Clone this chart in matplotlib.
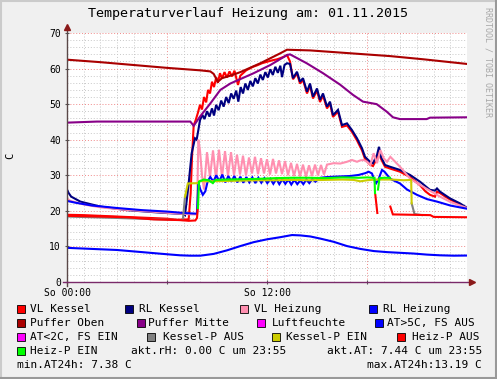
import numpy as np
import matplotlib
matplotlib.use('Agg')
import matplotlib.pyplot as plt
from matplotlib.patches import Rectangle
from matplotlib.lines import Line2D

nan = np.nan

# Stunden seit 00:00, Werte in C
vl_kessel_h = [0, 1, 2, 3, 4, 5, 6, 6.6, 7.3, 7.42, 7.5, 7.6, 7.72, 7.85, 7.98, 8.1, 8.22, 8.35, 8.46, 8.58,
               8.7, 8.82, 8.95, 9.05, 9.18, 9.3, 9.45, 9.6, 9.75, 9.9, 10.05, 10.26, 10.4, 10.56, 10.75, 10.95,
               11.16, 11.4, 11.7, 12.0, 12.3, 12.6, 12.78, 13.0, 13.2, 13.38, 13.56, 13.8, 13.98, 14.16, 14.4,
               14.58, 14.76, 15.0, 15.18, 15.36, 15.6, 15.78, 15.96, 16.26, 16.5, 16.8, 17.1, 17.4, 17.7, 17.88,
               18.18, 18.36, 18.6, 18.72, 18.84, 19.08, 19.38, 19.98, 20.58, 21.18, 21.5, 21.78, 22.08, 22.2,
               22.38, 22.7, 22.98, 23.58, 24.0]
vl_kessel = [18.9, 18.8, 18.6, 18.4, 18.2, 18.0, 17.8, 17.5, 17.6, 25.0, 35.0, 44.0, 45.5, 47.5, 49.8, 48.5,
             52.0, 50.5, 54.0, 53.0, 56.3, 54.8, 57.5, 56.0, 58.7, 57.2, 59.0, 57.5, 59.2, 57.8, 59.4, 55.4,
             58.0, 58.7, 59.5, 60.0, 60.5, 60.9, 61.5, 61.9, 62.3, 62.6, 62.9, 63.3, 63.8, 62.0, 57.0, 58.6,
             55.8, 56.8, 53.0, 55.2, 51.6, 53.8, 50.6, 52.4, 48.8, 50.2, 46.4, 47.9, 43.6, 44.0, 42.2, 39.8,
             37.0, 34.6, 33.0, 32.6, 34.8, 36.8, 34.6, 32.4, 31.9, 31.0, 29.5, 27.2, 25.5, 24.5, 24.0, 25.4,
             25.0, 24.0, 23.2, 21.8, 20.8]

rl_kessel_h = [0, 0.1, 0.25, 0.8, 2.0, 3.6, 5.6, 7.0, 7.08, 7.28, 7.48, 7.68, 7.78, 7.88, 7.98, 8.12, 8.25,
               8.4, 8.55, 8.7, 8.82, 8.95, 9.1, 9.25, 9.4, 9.55, 9.7, 9.85, 10.0, 10.15, 10.28, 10.42, 10.56,
               10.7, 10.85, 11.0, 11.15, 11.3, 11.45, 11.6, 11.75, 11.9, 12.05, 12.2, 12.35, 12.5, 12.65, 12.8,
               12.9, 13.05, 13.2, 13.38, 13.56, 13.8, 13.98, 14.16, 14.4, 14.58, 14.76, 15.0, 15.18, 15.36,
               15.6, 15.78, 15.96, 16.26, 16.5, 16.8, 17.1, 17.4, 17.7, 17.88, 18.18, 18.36, 18.6, 18.72,
               18.84, 19.08, 19.38, 19.98, 20.58, 21.18, 21.78, 22.08, 22.2, 22.38, 22.98, 23.58, 23.88, 24.0]
rl_kessel = [26.0, 25.0, 24.0, 22.6, 21.2, 20.2, 19.5, 19.1, 18.8, 26.8, 36.2, 40.4, 40.0, 42.7, 45.5, 47.0,
             45.8, 48.0, 46.5, 48.8, 46.8, 49.8, 48.3, 51.0, 49.3, 52.0, 50.3, 53.0, 51.5, 53.8, 50.7, 54.8,
             53.0, 55.8, 54.0, 56.5, 55.0, 57.3, 55.8, 58.3, 56.8, 59.0, 57.5, 59.8, 58.2, 60.5, 58.8, 60.8,
             57.6, 61.0, 61.5, 61.3, 57.3, 59.1, 56.3, 57.3, 53.5, 55.8, 52.1, 54.4, 51.2, 53.0, 49.3, 50.7,
             46.9, 48.4, 44.1, 44.6, 42.7, 40.4, 37.6, 35.2, 33.8, 33.4, 35.7, 38.0, 35.2, 32.9, 32.4, 31.5,
             30.1, 28.2, 25.9, 25.7, 26.3, 25.4, 23.5, 22.1, 21.2, 21.0]

vl_heiz_h = [0, 0.2, 1, 2, 3.5, 5, 6.5, 7.5, 7.8, 7.88, 7.98, 8.1, 8.22, 8.4, 8.58, 8.76, 8.94, 9.12, 9.3,
             9.48, 9.66, 9.84, 10.02, 10.2, 10.38, 10.56, 10.74, 10.92, 11.1, 11.28, 11.46, 11.64, 11.82, 12.0,
             12.18, 12.36, 12.54, 12.72, 12.9, 13.08, 13.26, 13.44, 13.62, 13.8, 13.98, 14.16, 14.34, 14.52,
             14.7, 14.88, 15.06, 15.24, 15.42, 15.6, 15.8, 16.0, 16.4, 16.8, 17.1, 17.4, 17.6, 17.8, 18.0,
             18.2, 18.4, 18.6, 18.8, 19.0, 19.2, 19.4, 19.98, 20.6, 21.18, 22.38, 23.0, 23.88, 24.0]
vl_heiz = [23.5, 22.8, 21.8, 21.0, 20.3, 19.8, 19.3, 19.0, 19.0, 40.0, 37.0, 30.0, 26.0, 36.5, 29.5, 37.0,
           29.0, 37.2, 29.5, 36.8, 29.8, 36.5, 30.0, 35.8, 30.2, 35.5, 30.0, 35.0, 30.5, 35.2, 30.3, 34.8,
           30.5, 34.5, 30.2, 34.6, 30.5, 34.2, 30.3, 34.0, 30.0, 33.5, 29.8, 33.2, 29.7, 33.0, 29.6, 32.8,
           29.8, 33.0, 30.0, 32.9, 30.2, 33.0, 33.2, 33.4, 33.3, 33.8, 34.3, 33.8, 34.2, 34.3, 33.8, 32.9,
           36.2, 33.4, 37.1, 34.8, 33.8, 35.2, 32.4, 29.0, 27.3, 24.0, 22.5, 21.0, 20.9]

rl_heiz_h = [0, 0.5, 1.5, 3, 4.5, 6, 7.0, 7.8, 7.88, 8.0, 8.15, 8.3, 8.45, 8.6, 8.78, 8.96, 9.14, 9.32, 9.5,
             9.68, 9.86, 10.04, 10.22, 10.4, 10.58, 10.76, 10.94, 11.12, 11.3, 11.48, 11.66, 11.84, 12.02,
             12.2, 12.38, 12.56, 12.74, 12.92, 13.1, 13.28, 13.46, 13.64, 13.82, 14.0, 14.18, 14.36, 14.54,
             14.72, 14.9, 15.2, 15.6, 16.0, 16.5, 17.0, 17.5, 17.9, 18.1, 18.3, 18.45, 18.55, 18.7, 18.9,
             19.05, 19.4, 19.98, 20.4, 21.0, 21.6, 22.2, 23.0, 23.88, 24.0]
rl_heiz = [22.8, 22.3, 21.5, 20.8, 20.2, 19.8, 19.4, 19.2, 28.0, 26.0, 24.5, 25.5, 28.5, 29.5, 28.2, 30.0,
           28.3, 30.2, 28.0, 29.8, 28.2, 29.8, 28.0, 29.6, 27.9, 29.5, 28.0, 29.4, 27.8, 29.3, 27.9, 29.2,
           27.8, 29.0, 27.6, 29.0, 27.5, 28.9, 27.6, 28.8, 27.4, 28.7, 27.5, 28.6, 27.5, 28.8, 27.8, 28.9,
           28.2, 29.3, 29.5, 29.6, 29.7, 29.8, 30.1, 30.6, 31.0, 30.5, 28.5, 27.8, 29.0, 31.5, 31.0, 29.0,
           27.7, 26.0, 24.5, 23.3, 22.6, 21.5, 20.7, 20.6]

puffer_oben_h = [0, 2, 4, 6, 8, 8.6, 8.8, 9.05, 9.3, 9.8, 10.4, 11.6, 12.8, 13.2, 14.6, 17.0, 19.4, 21.4, 24.0]
puffer_oben = [62.5, 61.8, 61.0, 60.2, 59.5, 59.2, 58.5, 56.3, 57.3, 58.0, 59.0, 61.5, 64.3, 65.3, 65.1, 64.3,
               63.5, 62.6, 61.3]

puffer_mitte_h = [0, 1.8, 7.4, 7.6, 7.98, 8.6, 9.2, 9.8, 11.2, 12.2, 13.2, 13.38, 14.38, 15.36, 16.38, 17.16,
                  17.76, 18.58, 19.18, 19.56, 19.98, 21.58, 21.78, 24.0]
puffer_mitte = [44.8, 45.1, 45.1, 43.9, 46.5, 50.2, 54.0, 55.8, 58.7, 61.0, 63.8, 64.0, 61.5, 58.7, 55.5,
                52.6, 50.7, 50.0, 47.9, 46.3, 45.8, 45.8, 46.2, 46.3]

at_h = [0, 1, 2, 3, 4, 5, 6, 6.8, 7.4, 8.0, 8.8, 9.6, 10.4, 11.2, 12.0, 12.8, 13.5, 14.0, 14.6, 15.2, 16.0,
        16.8, 17.6, 18.4, 19.2, 20.0, 20.8, 21.6, 22.4, 23.2, 24.0]
at = [9.6, 9.4, 9.2, 9.0, 8.6, 8.2, 7.8, 7.5, 7.4, 7.4, 7.9, 8.9, 10.1, 11.2, 12.0, 12.6, 13.2, 13.1, 12.8,
      12.2, 11.3, 10.1, 9.3, 8.7, 8.4, 8.2, 8.0, 7.7, 7.5, 7.4, 7.44]

kessel_aus_h = [0, 3, 6.95, 7.08, 7.1, 20.68, 20.85, 21.3]
kessel_aus = [18.4, 18.0, 17.4, 24.0, nan, 22.1, 19.1, 18.8]

kessel_ein_h = [7.08, 7.25, 7.88, 7.95, 8.5, 9.5, 10.5, 11.5, 12.5, 13.5, 14.5, 15.5, 16.5, 17.2, 17.6, 18.0,
                18.5, 19.5, 20.2, 20.65, 20.68]
kessel_ein = [24.0, 27.7, 27.8, 28.4, 28.3, 28.4, 28.5, 28.6, 28.6, 28.7, 28.6, 28.7, 28.8, 28.7, 28.3, 28.6,
              28.8, 28.8, 28.6, 28.7, 22.1]

heizp_aus_h = [0, 2, 3.6, 5.2, 6.8, 7.3, 7.7, 7.8, 7.85, 7.9, 18.5, 18.62, 18.7, 19.4, 19.55, 21.8, 22.0, 24.0]
heizp_aus = [18.6, 18.4, 18.2, 17.6, 17.4, 17.2, 17.3, 18.0, 20.8, nan, 24.5, 19.4, nan, 21.2, 19.0, 18.8,
             18.3, 18.2]

heizp_ein_h = [7.86, 7.92, 8.2, 8.5, 8.75, 8.9, 9.5, 10.5, 11.5, 12.5, 13.5, 14.5, 15.5, 16.5, 17.5, 18.0,
               18.45, 18.48, 18.55, 18.66, 18.75, 19.0, 19.38]
heizp_ein = [20.8, 28.2, 28.8, 28.6, 27.8, 28.7, 28.8, 28.9, 29.0, 29.2, 29.3, 29.3, 29.2, 29.4, 29.3, 29.4,
             29.3, 25.0, nan, 26.0, 29.2, 29.3, 29.3]

labels = ['VL Kessel', 'RL Kessel', 'VL Heizung', 'RL Heizung', 'Puffer Oben', 'Puffer Mitte', 'Luftfeuchte',
          'AT>5C, FS AUS', 'AT<2C, FS EIN', 'Kessel-P AUS', 'Kessel-P EIN', 'Heiz-P AUS', 'Heiz-P EIN']
colors = ['#FF0000', '#000080', '#FF8FB0', '#0000FF', '#AA0000', '#880088', '#FF00FF',
          '#0000FF', '#FF00FF', '#808080', '#CCCC00', '#FF0000', '#00FF00']

title = 'Temperaturverlauf Heizung am: 01.11.2015'
akt_rh = 'akt.rH: 0.00 C um 23:55'
akt_at = 'akt.AT: 7.44 C um 23:55'
min_at = 'min.AT24h: 7.38 C'
max_at = 'max.AT24h:13.19 C'

W, H = 497, 379
mono = 'DejaVu Sans Mono'
plt.rcParams['font.family'] = mono


def fx(px):
    return px / W


def fy(py):
    return 1 - py / H


fig = plt.figure(figsize=(W / 100, H / 100), dpi=100, facecolor='#F0F0F0')
# Rahmen wie rrdtool
fig.add_artist(Rectangle((0, 0), 1, 1, transform=fig.transFigure, fill=False, lw=0))
fig.add_artist(Line2D([0, 1], [1 - 1 / H, 1 - 1 / H], transform=fig.transFigure, color='#CBCBCB', lw=1.5))
fig.add_artist(Line2D([1 / W, 1 / W], [0, 1], transform=fig.transFigure, color='#CBCBCB', lw=1.5))
fig.add_artist(Line2D([0, 1], [1 / H, 1 / H], transform=fig.transFigure, color='#999999', lw=1.5))
fig.add_artist(Line2D([1 - 1 / W, 1 - 1 / W], [0, 1], transform=fig.transFigure, color='#999999', lw=1.5))

ax = fig.add_axes([fx(67), fy(282), (467 - 67) / W, (282 - 33) / H])
ax.set_facecolor('white')
ax.set_xlim(0, 24)
ax.set_ylim(0, 70)

series = [
    (vl_kessel_h, vl_kessel, 0),
    (rl_kessel_h, rl_kessel, 1),
    (vl_heiz_h, vl_heiz, 2),
    (rl_heiz_h, rl_heiz, 3),
    (puffer_oben_h, puffer_oben, 4),
    (puffer_mitte_h, puffer_mitte, 5),
    (at_h, at, 7),
    (kessel_aus_h, kessel_aus, 9),
    (kessel_ein_h, kessel_ein, 10),
    (heizp_aus_h, heizp_aus, 11),
    (heizp_ein_h, heizp_ein, 12),
]
for i, (hh, vv, ci) in enumerate(series):
    ax.plot(hh, vv, color=colors[ci], lw=1.5, zorder=3 + i * 0.01, solid_joinstyle='miter')

# Gitter
ax.set_xticks([0, 6, 12, 18])
ax.set_xticklabels(['So 00:00', '', 'So 12:00', ''])
ax.set_xticks(np.arange(0, 25, 1), minor=True)
ax.set_yticks(np.arange(0, 71, 10))
ax.set_yticks(np.arange(0, 71, 2), minor=True)
ax.grid(which='minor', color='#C8C8C8', linestyle=(0, (1, 2)), lw=0.7)
ax.grid(which='major', color='#F08888', linestyle=(0, (1, 2)), lw=0.7)
ax.axvline(24, color='#C8C8C8', linestyle=(0, (1, 2)), lw=0.7)
ax.set_axisbelow(True)
ax.tick_params(which='minor', length=0)
ax.tick_params(which='major', direction='inout', length=3, width=0.8, color='#555555',
               labelsize=7, pad=3)
ax.tick_params(axis='x', pad=2.5)
for s in ax.spines.values():
    s.set_visible(False)

# Achsen mit Pfeilen
ax.plot([0, 0], [-0.016, 1.02], transform=ax.transAxes, color='#5a4848', lw=1, clip_on=False, zorder=5)
ax.plot([-0.01, 1.01], [0, 0], transform=ax.transAxes, color='#7a2a6a', lw=1, clip_on=False, zorder=5)
ax.plot([0], [1.025], transform=ax.transAxes, marker='^', ms=4, color='#8B1A1A', clip_on=False, zorder=6)
ax.plot([1.012], [0], transform=ax.transAxes, marker='>', ms=4, color='#8B1A1A', clip_on=False, zorder=6)

fig.text(fx(248), fy(14), title, fontsize=9.6, ha='center', va='center')
fig.text(fx(10), fy(156), 'C', rotation=90, fontsize=7.5, ha='center', va='center')
fig.text(fx(488), fy(62), 'RRDTOOL / TOBI OETIKER', rotation=270, fontsize=6, color='#A8A8A8',
         ha='center', va='center')

# Legende
leg_pos = [
    (17, 30, 309), (125, 139, 309), (240, 254, 309), (369, 383, 309),
    (17, 30, 323), (137, 148, 323), (257, 272, 323), (375, 387, 323),
    (17, 30, 337), (147, 163, 337), (272, 286, 337), (397, 412, 337),
    (17, 30, 351),
]
for (sx, tx, ty), lab, col in zip(leg_pos, labels, colors):
    fig.add_artist(Rectangle((fx(sx), fy(ty + 4)), 8 / W, 8 / H, transform=fig.transFigure,
                             facecolor=col, edgecolor='black', lw=0.6))
    fig.text(fx(tx), fy(ty), lab, fontsize=8, ha='left', va='center')

fig.text(fx(131), fy(351), akt_rh, fontsize=8, ha='left', va='center')
fig.text(fx(482), fy(351), akt_at, fontsize=8, ha='right', va='center')
fig.text(fx(17), fy(365), min_at, fontsize=8, ha='left', va='center')
fig.text(fx(482), fy(365), max_at, fontsize=8, ha='right', va='center')

fig.savefig('out.png', dpi=100, facecolor=fig.get_facecolor())
